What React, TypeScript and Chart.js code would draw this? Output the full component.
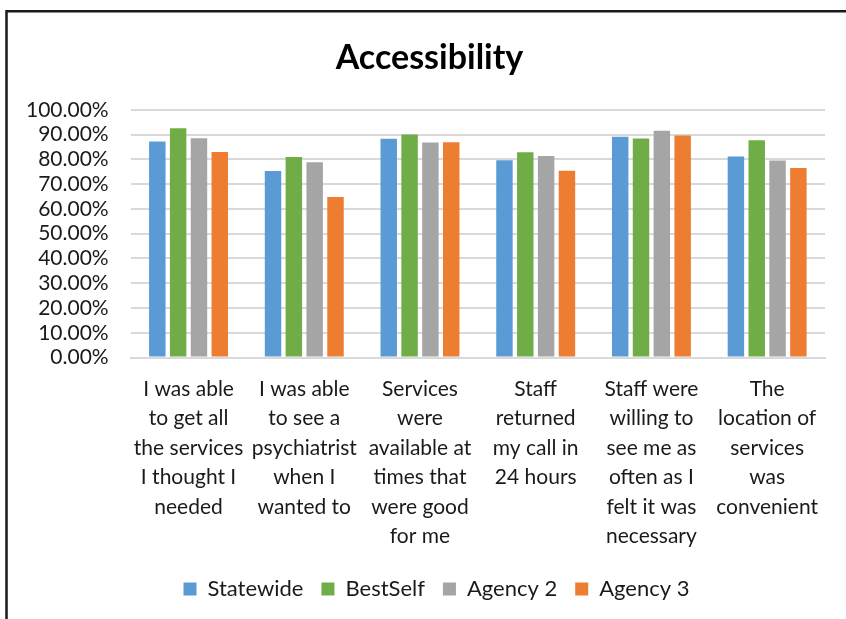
import React, { useEffect, useRef } from "react";
import { Chart, registerables } from "chart.js";

Chart.register(...registerables);

const categories: string[][] = [
  ["I was able", "to get all", "the services", "I thought I", "needed"],
  ["I was able", "to see a", "psychiatrist", "when I", "wanted to"],
  ["Services", "were", "available at", "times that", "were good", "for me"],
  ["Staff", "returned", "my call in", "24 hours"],
  ["Staff were", "willing to", "see me as", "often as I", "felt it was", "necessary"],
  ["The", "location of", "services", "was", "convenient"],
];

const statewide = [0.872, 0.753, 0.883, 0.796, 0.891, 0.812];
const bestSelf = [0.926, 0.81, 0.9, 0.829, 0.884, 0.877];
const agency2 = [0.885, 0.788, 0.868, 0.814, 0.915, 0.795];
const agency3 = [0.83, 0.648, 0.869, 0.754, 0.896, 0.765];

const seriesNames = ["Statewide", "BestSelf", "Agency 2", "Agency 3"];
const seriesColors = ["#5B9BD5", "#70AD47", "#A5A5A5", "#ED7D31"];

const yMin = 0;
const yMax = 1;
const yStep = 0.1;

const FONT = "Lato, 'Open Sans', sans-serif";

const framePlugin = {
  id: "frame",
  afterLayout(chart: any) {
    if (chart.legend) {
      chart.legend.left += 22;
      chart.legend.right += 22;
    }
    if (chart.titleBlock) {
      chart.titleBlock.left += 15;
      chart.titleBlock.right += 15;
    }
  },
  beforeDraw(chart: any) {
    const ctx = chart.ctx;
    ctx.save();
    ctx.fillStyle = "#ffffff";
    ctx.fillRect(0, 0, chart.width, chart.height);
    ctx.strokeStyle = "#1a1a1a";
    ctx.lineWidth = 2.5;
    ctx.beginPath();
    ctx.moveTo(6.5, chart.height + 5);
    ctx.lineTo(6.5, 11.3);
    ctx.lineTo(chart.width + 5, 11.3);
    ctx.stroke();
    ctx.restore();
  },
};

export default function App() {
  const canvasRef = useRef<HTMLCanvasElement | null>(null);

  useEffect(() => {
    if (!canvasRef.current) return;
    const data = [statewide, bestSelf, agency2, agency3];
    const chart = new Chart(canvasRef.current, {
      type: "bar",
      data: {
        labels: categories,
        datasets: data.map((values, i) => ({
          label: seriesNames[i],
          data: values,
          backgroundColor: seriesColors[i],
          borderWidth: 0,
          categoryPercentage: 0.72,
          barPercentage: 0.79,
        })),
      },
      plugins: [framePlugin],
      options: {
        animation: false,
        responsive: true,
        maintainAspectRatio: false,
        layout: { padding: { top: 38, left: 4, right: 21, bottom: 9 } },
        plugins: {
          title: {
            display: true,
            text: "Accessibility",
            color: "#000000",
            font: { family: FONT, size: 34, weight: "bold", lineHeight: 1.2 },
            padding: { top: 0, bottom: 31 },
          },
          legend: {
            position: "bottom",
            labels: {
              color: "#1a1a1a",
              font: { family: FONT, size: 22 },
              boxWidth: 13,
              boxHeight: 13,
              padding: 18,
            },
          },
          tooltip: { enabled: false },
        },
        scales: {
          x: {
            grid: { display: false, drawTicks: false },
            border: { display: true, color: "#d9d9d9", width: 2 },
            ticks: {
              color: "#1a1a1a",
              font: { family: FONT, size: 21, lineHeight: 1.4 },
              padding: 17,
              maxRotation: 0,
              autoSkip: false,
            },
            afterFit: (scale: any) => {
              scale.height -= 8;
            },
          },
          y: {
            min: yMin,
            max: yMax,
            grid: { color: "#d9d9d9", lineWidth: 2, drawTicks: false },
            border: { display: false },
            ticks: {
              stepSize: yStep,
              autoSkip: false,
              color: "#1a1a1a",
              font: { family: FONT, size: 21 },
              padding: 22,
              callback: (v: any) => (Number(v) * 100).toFixed(2) + "%",
            },
          },
        },
      },
    });
    return () => chart.destroy();
  }, []);

  return (
    <div style={{ position: "fixed", left: 0, top: 0, width: 846, height: 619, background: "#fff" }}>
      <canvas ref={canvasRef} />
    </div>
  );
}
